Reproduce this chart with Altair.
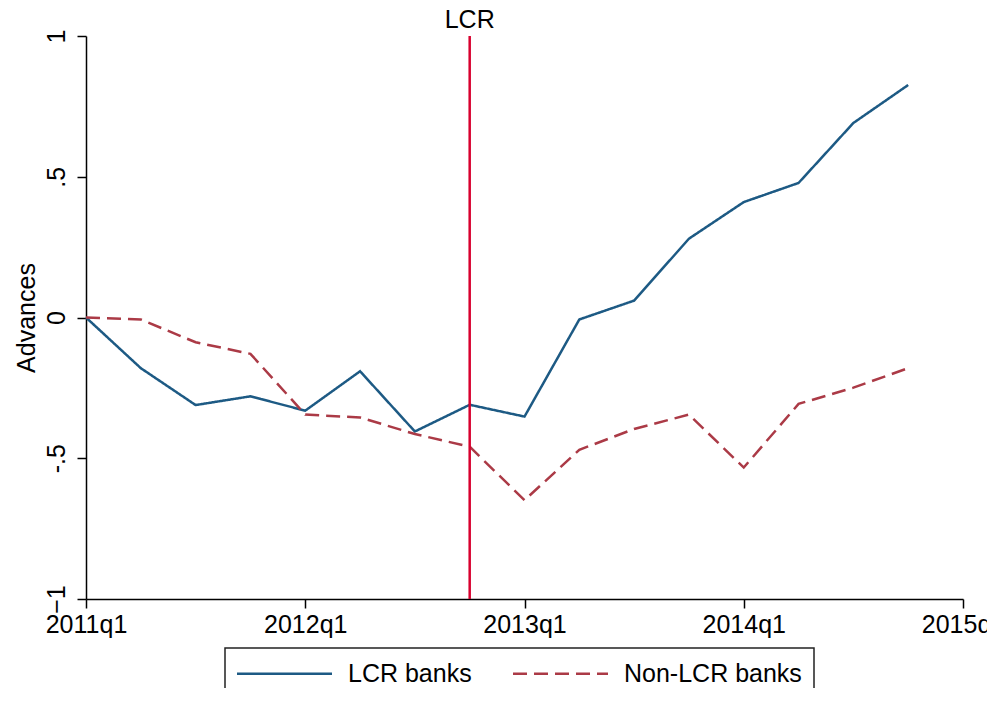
import altair as alt
import pandas as pd

quarters = ["2011q1", "2011q2", "2011q3", "2011q4",
            "2012q1", "2012q2", "2012q3", "2012q4",
            "2013q1", "2013q2", "2013q3", "2013q4",
            "2014q1", "2014q2", "2014q3", "2014q4"]
lcr_banks = [0.0, -0.18, -0.311, -0.28, -0.331, -0.191, -0.405, -0.31,
             -0.352, -0.007, 0.06, 0.28, 0.41, 0.478, 0.691, 0.826]
non_lcr_banks = [0.0, -0.007, -0.088, -0.129, -0.345, -0.355, -0.414, -0.459,
                 -0.649, -0.47, -0.396, -0.345, -0.533, -0.307, -0.249, -0.18]
series_names = ["LCR banks", "Non-LCR banks"]
x_tick_labels = ["2011q1", "2012q1", "2013q1", "2014q1", "2015q1"]
y_ticks = [-1, -0.5, 0, 0.5, 1]
event_quarter = "2012q4"
event_label = "LCR"

rows = []
for i, q in enumerate(quarters):
    rows.append({"t": i, "quarter": q, "series": series_names[0], "value": lcr_banks[i]})
    rows.append({"t": i, "quarter": q, "series": series_names[1], "value": non_lcr_banks[i]})
df = pd.DataFrame(rows)

tick_positions = [4 * k for k in range(len(x_tick_labels))]
label_expr = "[" + ",".join("'" + s + "'" for s in x_tick_labels) + "][datum.value/4]"

event_df = pd.DataFrame({"t": [quarters.index(event_quarter)], "label": [event_label]})

FONT = "Liberation Sans"
FS = 25
BLUE = "#1d5a84"
MAROON = "#ab3a46"
RED = "#d8002e"

x_scale = alt.Scale(domain=[0, 16], nice=False, zero=False)
y_scale = alt.Scale(domain=[-1, 1], nice=False)

legend_cfg = dict(title=None, orient="none", direction="horizontal",
                  legendX=139, legendY=612,
                  symbolType="M-4,0H4", symbolSize=564, symbolOffset=34,
                  symbolStrokeWidth=2.5, labelFontSize=FS,
                  labelFont=FONT, labelColor="black",
                  labelOffset=50, columnPadding=36, labelLimit=400,
                  padding=12, strokeColor="#222222", fillColor="white")

lines = alt.Chart(df).mark_line(strokeWidth=2.5).encode(
    x=alt.X("t:Q", scale=x_scale,
            axis=alt.Axis(values=tick_positions, labelExpr=label_expr, title=None,
                          grid=False, tickSize=9, labelPadding=4, labelFontSize=FS,
                          labelFont=FONT, labelColor="black", tickColor="black",
                          domainColor="black", tickWidth=1.5, domainWidth=1.5,
                          labelAngle=0, labelAlign="center", labelBaseline="top",
                          labelOverlap=False, labelFlush=False)),
    y=alt.Y("value:Q", scale=y_scale,
            axis=alt.Axis(values=y_ticks, title="Advances", grid=False, tickSize=9,
                          labelExpr="datum.value == 0.5 ? '.5' : datum.value == -0.5 ? '-.5' : format(datum.value, 'd')",
                          labelAngle=270, labelAlign="center", labelBaseline="bottom",
                          labelPadding=8, labelFontSize=FS, labelFont=FONT,
                          labelColor="black", tickColor="black", domainColor="black",
                          tickWidth=1.5, domainWidth=1.5, labelOverlap=False, labelFlush=False,
                          titleFont=FONT, titleFontSize=FS, titleFontWeight="normal",
                          titleColor="black", titleAngle=270, titleAlign="center",
                          titleBaseline="bottom", titleX=-47, titleY=281.5)),
    color=alt.Color("series:N",
                    scale=alt.Scale(domain=series_names, range=[BLUE, MAROON]),
                    legend=alt.Legend(**legend_cfg)),
    strokeDash=alt.StrokeDash("series:N",
                              scale=alt.Scale(domain=series_names, range=[[1, 0], [14, 7]]),
                              legend=alt.Legend(**legend_cfg)),
    order="t:Q",
)

rule = alt.Chart(event_df).mark_rule(color=RED, strokeWidth=2.5).encode(
    x=alt.X("t:Q", scale=x_scale)
)

label = alt.Chart(event_df).mark_text(fontSize=FS, font=FONT, color="black",
                                      baseline="alphabetic", align="center").encode(
    x=alt.X("t:Q", scale=x_scale),
    y=alt.value(-8),
    text="label:N",
)

chart = alt.layer(lines, rule, label).properties(
    width=877, height=563,
    autosize=alt.AutoSizeParams(type="none"),
    padding={"left": 78, "top": 28, "right": 24, "bottom": 89},
    background="white",
).configure_view(stroke=None).configure_legend(strokeWidth=1.5)

chart.save("out.html", embed_options={"renderer": "svg", "actions": False})
